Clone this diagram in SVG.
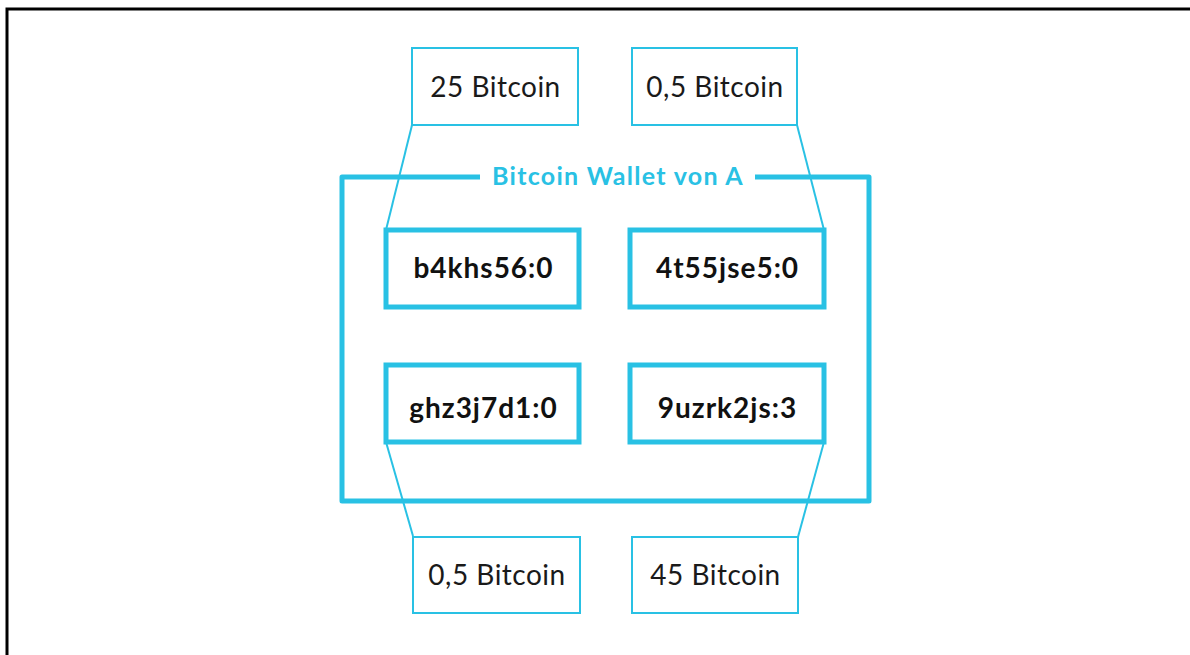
<svg xmlns="http://www.w3.org/2000/svg" width="1190" height="655" viewBox="0 0 1190 655">
<style>
.amt{fill:#fff;stroke:#29c1e4;stroke-width:2}
.utxo{fill:#fff;stroke:#29c1e4;stroke-width:5}
.wallet{fill:none;stroke:#29c1e4;stroke-width:5;stroke-linejoin:round}
.con{fill:none;stroke:#29c1e4;stroke-width:2}
.t{font-family:Lato,"Liberation Sans",sans-serif;font-size:28px;letter-spacing:0.5px;fill:#1a1a1a;text-anchor:middle}
.tb{font-family:Lato,"Liberation Sans",sans-serif;font-size:28px;letter-spacing:1px;font-weight:bold;fill:#111;text-anchor:middle}
.title{font-family:Lato,"Liberation Sans",sans-serif;font-size:25px;letter-spacing:1.3px;font-weight:bold;fill:#29c1e4;text-anchor:middle}
</style>
<rect width="1190" height="655" fill="#fff"/>
<path d="M7,655 V9 H1190" fill="none" stroke="#000" stroke-width="3"/>
<g id="wallet">
<path class="wallet" d="M480,177 H342 V501 H869 V177 H755"/>
<text class="title" x="618" y="185">Bitcoin Wallet von A</text>
</g>
<g id="connectors">
<line class="con" x1="412" y1="125" x2="386" y2="230"/>
<line class="con" x1="797" y1="125" x2="824" y2="230"/>
<line class="con" x1="386" y1="442" x2="413" y2="536"/>
<line class="con" x1="824" y1="442" x2="798" y2="537"/>
</g>
<g id="in1"><rect class="amt" x="412" y="48" width="166" height="77"/><text class="t" x="495.5" y="97">25 Bitcoin</text></g>
<g id="in2"><rect class="amt" x="632" y="48" width="165" height="77"/><text class="t" x="715" y="97">0,5 Bitcoin</text></g>
<g id="out1"><rect class="amt" x="413" y="537" width="167" height="76"/><text class="t" x="497" y="585">0,5 Bitcoin</text></g>
<g id="out2"><rect class="amt" x="632" y="537" width="166" height="76"/><text class="t" x="715.5" y="585">45 Bitcoin</text></g>
<g id="u1"><rect class="utxo" x="386" y="230" width="193" height="77"/><text class="tb" x="483.5" y="278">b4khs56:0</text></g>
<g id="u2"><rect class="utxo" x="630" y="230" width="194" height="77"/><text class="tb" x="727.5" y="278">4t55jse5:0</text></g>
<g id="u3"><rect class="utxo" x="386" y="365" width="193" height="77"/><text class="tb" x="483.5" y="418">ghz3j7d1:0</text></g>
<g id="u4"><rect class="utxo" x="630" y="365" width="194" height="77"/><text class="tb" x="727.5" y="418">9uzrk2js:3</text></g>
</svg>
